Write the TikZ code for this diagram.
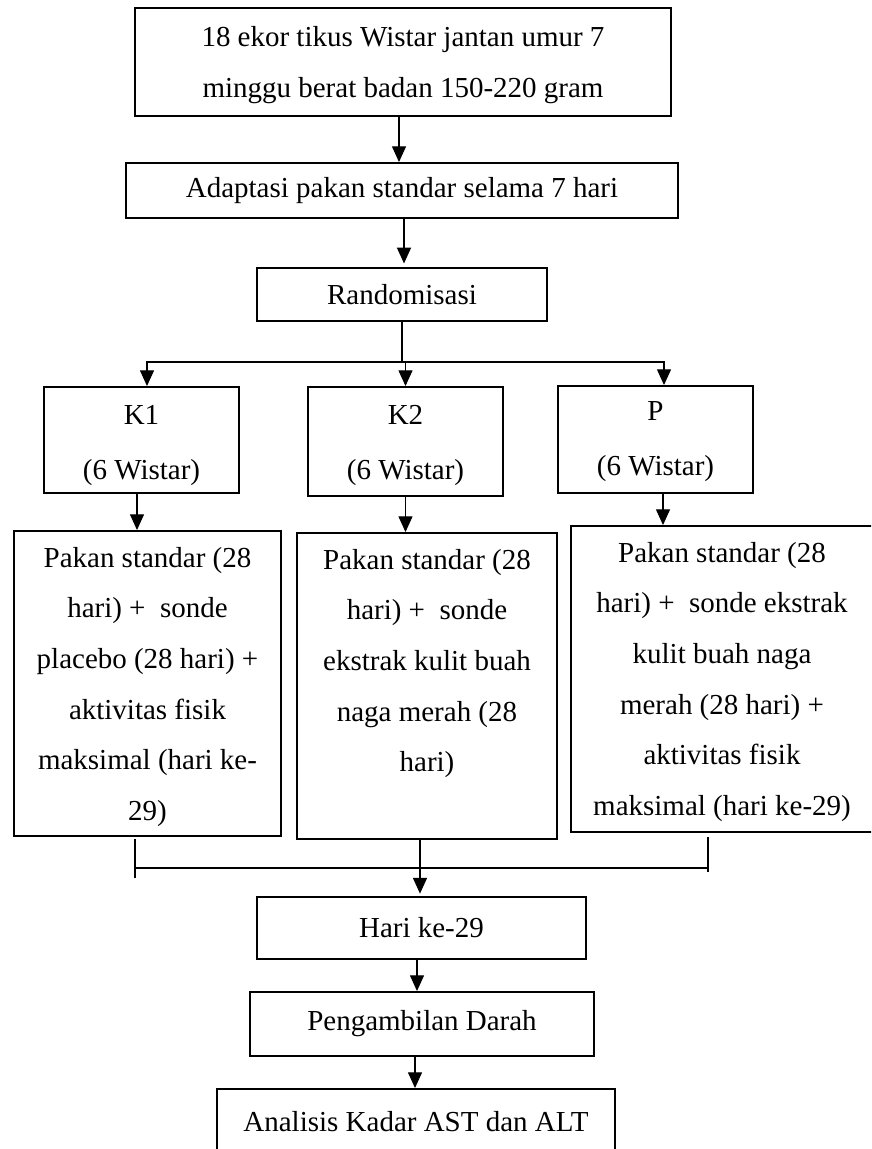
\documentclass[tikz,border=0pt]{standalone}
\usepackage{fontspec}
\setmainfont{Liberation Serif}
\usetikzlibrary{arrows.meta,calc}
\tikzset{
  box/.style={draw, line width=0.8pt, inner sep=0pt, align=center, font=\fontsize{12}{21}\selectfont},
  boxsize/.style 2 args={minimum width=#1*0.414pt, minimum height=#2*0.414pt},
  arr/.style={-{Triangle[length=6.5pt,width=5.8pt]}, line width=0.45pt},
  conn/.style={line width=0.45pt}
}
\begin{document}
\begin{tikzpicture}[x=0.414pt, y=-0.414pt]
\useasboundingbox (0,0) rectangle (871,1149);
\clip (0,0) rectangle (871,1149);

\node[box] (tikus) at (403,62) {\parbox[c][44.71pt][t]{221.9pt}{\vspace*{7.8pt}\centering
  18 ekor tikus Wistar jantan umur 7\\minggu berat badan 150-220 gram}};
\node[box, boxsize={552}{55}] (adaptasi) at (402,190.5) {Adaptasi pakan standar selama 7 hari};
\node[box, boxsize={290}{53}] (random) at (402,294.5) {Randomisasi};

\node[box] (k1) at (141.5,440) {\parbox[c][43.88pt][t]{80.73pt}{\vspace*{7.4pt}\centering K1\\[1.8pt](6 Wistar)}};
\node[box] (k2) at (405.5,441.5) {\parbox[c][45.13pt][t]{80.73pt}{\vspace*{7.4pt}\centering K2\\[1.8pt](6 Wistar)}};
\node[box] (p) at (655.5,439.5) {\parbox[c][44.3pt][t]{80.73pt}{\vspace*{6.6pt}\centering P\\[1.8pt](6 Wistar)}};

\node[box] (perl1) at (147.5,683.5) {\parbox[c][126.27pt][t]{110.54pt}{\vspace*{6.6pt}\centering
  Pakan standar (28\\hari) + \ sonde\\placebo (28 hari) +\\aktivitas fisik\\maksimal (hari ke-\\29)}};
\node[box] (perl2) at (427,686) {\parbox[c][126.68pt][t]{107.64pt}{\vspace*{6.6pt}\centering
  Pakan standar (28\\hari) + \ sonde\\ekstrak kulit buah\\naga merah (28\\hari)}};
\node[box] (perl3) at (722,679) {\parbox[c][126.68pt][t]{125.03pt}{\vspace*{6.6pt}\centering
  Pakan standar (28\\hari) + \ sonde ekstrak\\kulit buah naga\\merah (28 hari) +\\aktivitas fisik\\maksimal (hari ke-29)}};

\node[box, boxsize={329}{62}] (hari) at (421.5,928) {Hari ke-29};
\node[box, boxsize={344}{64}] (darah) at (422,1024) {Pengambilan Darah};
\node[box, boxsize={398}{66}] (analisis) at (416,1122) {Analisis Kadar AST dan ALT};

\draw[arr] ($(tikus.south)+(-4,0)$) -- ($(tikus.south|-adaptasi.north)+(-4,0)$);
\draw[arr, shorten >=1.5pt] ($(adaptasi.south)+(2,0)$) -- ($(adaptasi.south|-random.north)+(2,0)$);

\coordinate (bus) at (401,362);
\draw[conn] (random.south) -- (random.south |- bus);
\draw[arr] (bus) -| ($(k1.north)+(5.5,0)$);
\draw[arr] (bus) -| ($(p.north)+(8.5,0)$);
\draw[arr] (bus -| k2.north) -- (k2.north);

\draw[arr] ($(k1.south)+(-4.5,0)$) -- ($(k1.south|-perl1.north)+(-4.5,0)$);
\draw[arr] (k2.south) -- (k2.south|-perl2.north);
\draw[arr] ($(p.south)+(7.5,0)$) -- ($(p.south|-perl3.north)+(7.5,0)$);

\coordinate (joinL) at (135,868);
\coordinate (joinR) at (708,868);
\draw[conn] (joinL) -- (joinR);
\draw[conn] (135,839) -- (135,878);
\draw[conn] (708,837) -- (708,872);
\draw[arr, shorten >=1pt] ($(perl2.south)+(-7,0)$) -- ($(perl2.south|-hari.north)+(-7,0)$);
\draw[arr] ($(hari.south)+(-4.5,0)$) -- ($(hari.south|-darah.north)+(-4.5,0)$);
\draw[arr] ($(darah.south)+(-7,0)$) -- ($(darah.south|-analisis.north)+(-7,0)$);
\end{tikzpicture}
\end{document}
